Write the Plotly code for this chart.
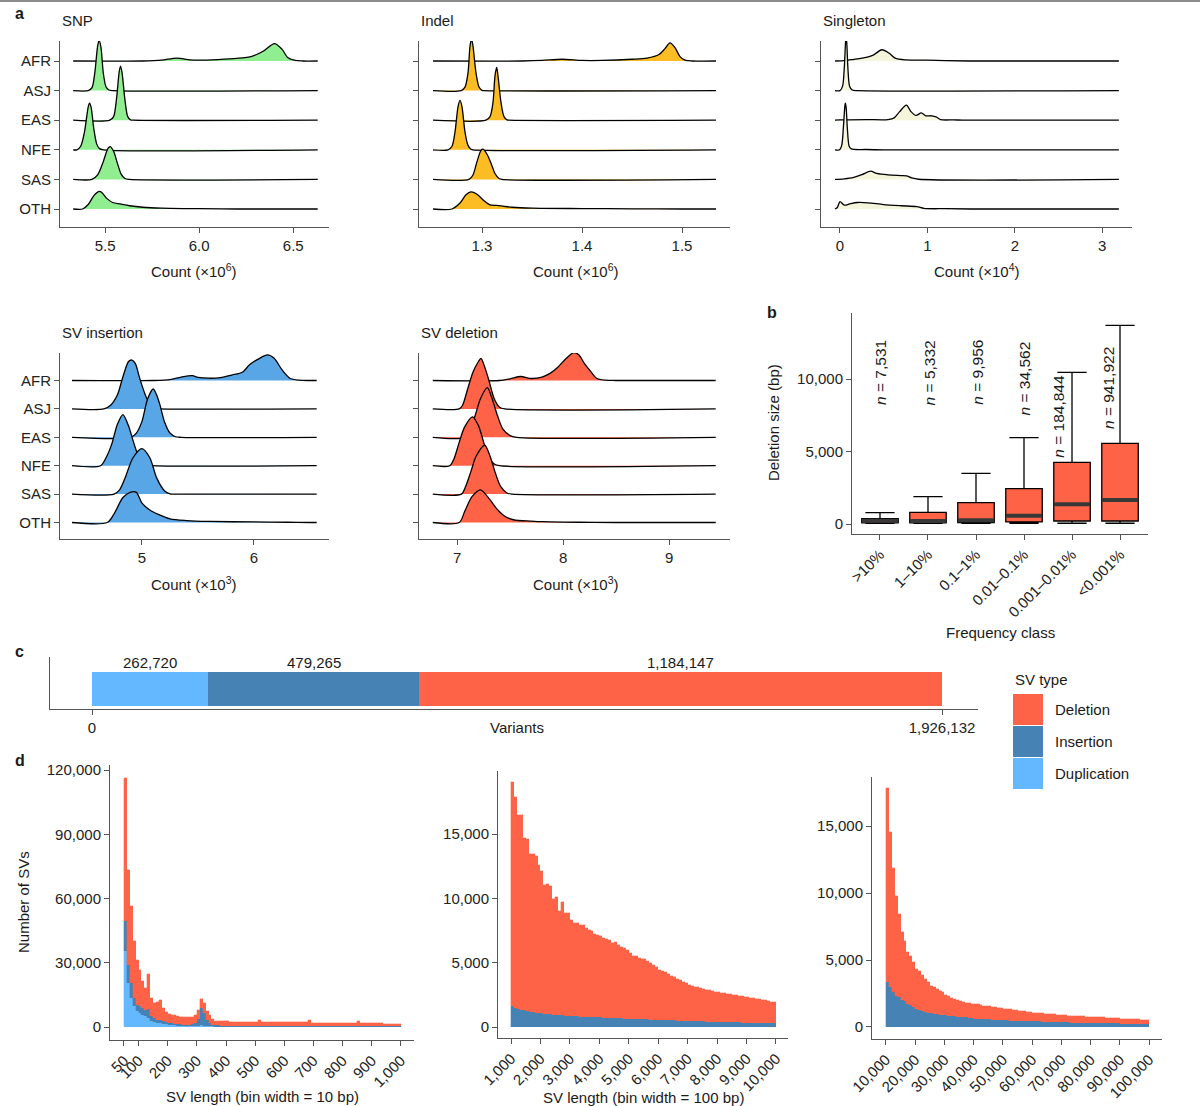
import plotly.graph_objects as go

FONT = "Liberation Sans, Arial, Helvetica, sans-serif"
W, H = 1200, 1106
FS = 15

# ---------------- DATA ----------------
POPS = ["AFR", "ASJ", "EAS", "NFE", "SAS", "OTH"]

# ridgeline profiles: (count values, density height in row units)
SNP_RIDGES = {
    "AFR": ([5.33, 5.70, 5.80, 5.88, 5.95, 6.0, 6.1, 6.2, 6.28, 6.34, 6.40, 6.44, 6.47, 6.51, 6.55, 6.63],
            [0, 0, 0.03, 0.1, 0.04, 0.03, 0.05, 0.09, 0.16, 0.33, 0.59, 0.4, 0.12, 0.02, 0, 0]),
    "ASJ": ([5.33, 5.41, 5.43, 5.445, 5.46, 5.468, 5.478, 5.49, 5.505, 5.52, 5.54, 6.63],
            [0, 0, 0.1, 0.6, 1.5, 1.7, 1.45, 0.6, 0.12, 0.02, 0, 0]),
    "EAS": ([5.33, 5.525, 5.545, 5.56, 5.575, 5.582, 5.59, 5.605, 5.62, 5.635, 5.65, 6.63],
            [0, 0, 0.12, 0.7, 1.65, 1.83, 1.6, 0.7, 0.12, 0.01, 0, 0]),
    "NFE": ([5.33, 5.35, 5.37, 5.39, 5.41, 5.417, 5.425, 5.44, 5.455, 5.47, 5.49, 6.63],
            [0, 0, 0.12, 0.6, 1.45, 1.58, 1.45, 0.7, 0.2, 0.04, 0, 0]),
    "SAS": ([5.33, 5.43, 5.46, 5.49, 5.515, 5.527, 5.545, 5.565, 5.585, 5.605, 5.63, 6.63],
            [0, 0, 0.15, 0.6, 1.05, 1.11, 0.95, 0.55, 0.18, 0.03, 0, 0]),
    "OTH": ([5.33, 5.38, 5.41, 5.44, 5.465, 5.48, 5.51, 5.54, 5.58, 5.63, 5.7, 5.8, 6.0, 6.2, 6.63],
            [0, 0, 0.15, 0.45, 0.59, 0.57, 0.35, 0.22, 0.17, 0.11, 0.06, 0.03, 0.01, 0, 0]),
}
INDEL_RIDGES = {
    "AFR": ([1.251, 1.34, 1.36, 1.38, 1.40, 1.42, 1.45, 1.465, 1.477, 1.483, 1.488, 1.493, 1.498, 1.503, 1.51, 1.534],
            [0, 0, 0.02, 0.06, 0.02, 0.02, 0.06, 0.1, 0.22, 0.42, 0.61, 0.45, 0.15, 0.03, 0, 0]),
    "ASJ": ([1.251, 1.279, 1.283, 1.286, 1.288, 1.2896, 1.291, 1.294, 1.297, 1.300, 1.302, 1.534],
            [0, 0, 0.12, 0.6, 1.5, 1.75, 1.5, 0.6, 0.12, 0.01, 0, 0]),
    "EAS": ([1.251, 1.304, 1.308, 1.311, 1.313, 1.3147, 1.316, 1.319, 1.322, 1.325, 1.327, 1.534],
            [0, 0, 0.12, 0.6, 1.5, 1.78, 1.5, 0.6, 0.12, 0.01, 0, 0]),
    "NFE": ([1.251, 1.266, 1.270, 1.273, 1.276, 1.278, 1.280, 1.283, 1.286, 1.289, 1.291, 1.534],
            [0, 0, 0.12, 0.6, 1.45, 1.67, 1.45, 0.6, 0.15, 0.02, 0, 0]),
    "SAS": ([1.251, 1.287, 1.291, 1.295, 1.299, 1.301, 1.305, 1.309, 1.313, 1.317, 1.32, 1.534],
            [0, 0, 0.15, 0.6, 0.98, 1.02, 0.85, 0.55, 0.2, 0.03, 0, 0]),
    "OTH": ([1.251, 1.27, 1.278, 1.284, 1.289, 1.295, 1.302, 1.308, 1.315, 1.322, 1.33, 1.35, 1.4, 1.45, 1.5, 1.534],
            [0, 0, 0.2, 0.48, 0.58, 0.5, 0.28, 0.14, 0.12, 0.09, 0.06, 0.03, 0.015, 0.005, 0, 0]),
}
SINGLETON_RIDGES = {
    "AFR": ([-0.057, 0.05, 0.15, 0.3, 0.38, 0.48, 0.56, 0.63, 0.75, 1.0, 1.2, 1.5, 3.19],
            [0, 0.01, 0.05, 0.12, 0.2, 0.38, 0.27, 0.1, 0.04, 0.03, 0.01, 0, 0]),
    "ASJ": ([-0.057, 0.0, 0.03, 0.05, 0.065, 0.07, 0.078, 0.09, 0.11, 0.14, 0.2, 3.19],
            [0, 0, 0.15, 0.8, 1.7, 1.8, 1.6, 0.8, 0.15, 0.02, 0, 0]),
    "EAS": ([-0.057, 0.0, 0.3, 0.55, 0.62, 0.68, 0.76, 0.81, 0.87, 0.93, 0.98, 1.05, 1.1, 1.15, 1.3, 1.45, 3.19],
            [0, 0.01, 0.02, 0.02, 0.08, 0.28, 0.51, 0.3, 0.16, 0.25, 0.15, 0.15, 0.11, 0.02, 0.01, 0, 0]),
    "NFE": ([-0.057, -0.005, 0.02, 0.04, 0.055, 0.061, 0.07, 0.085, 0.105, 0.13, 0.3, 0.5, 3.19],
            [0, 0, 0.15, 0.8, 1.45, 1.58, 1.45, 0.7, 0.12, 0.03, 0.01, 0, 0]),
    "SAS": ([-0.057, 0.05, 0.15, 0.25, 0.35, 0.42, 0.55, 0.7, 0.76, 0.82, 0.9, 3.19],
            [0, 0.02, 0.06, 0.16, 0.28, 0.2, 0.15, 0.13, 0.12, 0.05, 0.005, 0]),
    "OTH": ([-0.057, -0.03, 0.0, 0.05, 0.12, 0.2, 0.32, 0.5, 0.7, 0.88, 0.96, 1.2, 1.5, 3.19],
            [0, 0.05, 0.25, 0.13, 0.18, 0.22, 0.21, 0.15, 0.11, 0.08, 0.02, 0.01, 0, 0]),
}
SVINS_RIDGES = {
    "AFR": ([4.375, 5.1, 5.25, 5.35, 5.45, 5.5, 5.6, 5.7, 5.8, 5.9, 5.96, 6.05, 6.12, 6.18, 6.25, 6.32, 6.4, 6.5, 6.56],
            [0, 0, 0.03, 0.12, 0.17, 0.11, 0.08, 0.1, 0.19, 0.3, 0.55, 0.78, 0.9, 0.78, 0.38, 0.08, 0.01, 0, 0]),
    "ASJ": ([4.375, 4.66, 4.72, 4.78, 4.83, 4.88, 4.91, 4.94, 4.98, 5.03, 5.08, 5.12, 5.15, 6.56],
            [0, 0, 0.13, 0.49, 1.13, 1.67, 1.72, 1.6, 1.07, 0.49, 0.1, 0.01, 0, 0]),
    "EAS": ([4.375, 4.9, 4.95, 5.0, 5.05, 5.1, 5.13, 5.16, 5.2, 5.25, 5.3, 5.35, 6.56],
            [0, 0, 0.15, 0.56, 1.35, 1.7, 1.5, 1.15, 0.56, 0.15, 0.02, 0, 0]),
    "NFE": ([4.375, 4.63, 4.68, 4.73, 4.78, 4.83, 4.88, 4.93, 4.98, 5.03, 5.08, 6.56],
            [0, 0, 0.29, 0.76, 1.45, 1.8, 1.4, 0.76, 0.23, 0.03, 0, 0]),
    "SAS": ([4.375, 4.75, 4.8, 4.85, 4.92, 5.0, 5.07, 5.13, 5.2, 5.25, 5.3, 6.56],
            [0, 0, 0.15, 0.58, 1.28, 1.6, 1.28, 0.58, 0.12, 0.01, 0, 0]),
    "OTH": ([4.375, 4.69, 4.75, 4.83, 4.9, 4.95, 5.0, 5.07, 5.15, 5.25, 5.4, 5.6, 6.0, 6.3, 6.5, 6.56],
            [0, 0, 0.3, 0.88, 1.07, 1.06, 0.68, 0.44, 0.28, 0.13, 0.07, 0.04, 0.02, 0.01, 0, 0]),
}
SVDEL_RIDGES = {
    "AFR": ([6.77, 7.4, 7.5, 7.6, 7.7, 7.8, 7.88, 7.95, 8.03, 8.1, 8.15, 8.2, 8.26, 8.32, 8.4, 8.5, 9.44],
            [0, 0, 0.06, 0.14, 0.07, 0.12, 0.26, 0.47, 0.78, 0.98, 0.9, 0.6, 0.32, 0.07, 0.01, 0, 0]),
    "ASJ": ([6.77, 7.02, 7.05, 7.1, 7.15, 7.2, 7.225, 7.26, 7.3, 7.35, 7.4, 7.45, 9.44],
            [0, 0, 0.12, 0.71, 1.3, 1.66, 1.78, 1.48, 1.0, 0.36, 0.06, 0, 0]),
    "EAS": ([6.77, 7.07, 7.12, 7.17, 7.22, 7.285, 7.33, 7.38, 7.43, 7.5, 7.56, 9.44],
            [0, 0, 0.3, 0.77, 1.36, 1.75, 1.36, 0.77, 0.3, 0.06, 0, 0]),
    "NFE": ([6.77, 6.93, 6.97, 7.02, 7.07, 7.145, 7.2, 7.25, 7.3, 7.35, 7.4, 9.44],
            [0, 0, 0.24, 0.83, 1.36, 1.72, 1.42, 0.83, 0.3, 0.06, 0, 0]),
    "SAS": ([6.77, 7.04, 7.08, 7.13, 7.18, 7.26, 7.31, 7.36, 7.41, 7.47, 7.52, 9.44],
            [0, 0, 0.27, 0.8, 1.34, 1.72, 1.34, 0.75, 0.27, 0.04, 0, 0]),
    "OTH": ([6.77, 7.02, 7.07, 7.14, 7.22, 7.3, 7.37, 7.45, 7.55, 7.65, 7.8, 8.0, 8.3, 8.5, 9.44],
            [0, 0, 0.38, 0.91, 1.15, 0.85, 0.5, 0.22, 0.08, 0.06, 0.03, 0.015, 0.005, 0, 0]),
}

# panel b: deletion size by frequency class
FREQ_CLASSES = ["&gt;10%", "1–10%", "0.1–1%", "0.01–0.1%", "0.001–0.01%", "&lt;0.001%"]
BOX_N = ["7,531", "5,332", "9,956", "34,562", "184,844", "941,922"]
BOX_LOWER = [50, 50, 50, 50, 50, 50]
BOX_Q1 = [80, 80, 100, 140, 207, 207]
BOX_MEDIAN = [220, 207, 253, 575, 1356, 1655]
BOX_Q3 = [366, 805, 1471, 2437, 4253, 5563]
BOX_UPPER = [780, 1883, 3494, 5954, 10460, 13700]
BOX_LABEL_Y = [10450, 10450, 10500, 10070, 7400, 9410]
BOX_LABEL_DX = [0.01, 0.04, 0.04, 0.03, -0.27, -0.24]

# panel c: SV counts
SV_TYPES = ["Duplication", "Insertion", "Deletion"]
SV_COUNTS = [262720, 479265, 1184147]
SV_TOTAL = 1926132

# panel d1: 10 bp bins from 50 to 1,000
D1_DUP = [35600, 20500, 13500, 9600, 7300, 6500, 5700, 5000, 4200, 3000,
          2400, 2000, 1800, 1500, 1200, 1000, 900, 800, 700, 600,
          550, 500, 450, 420, 500, 700, 900, 700, 400, 300, 250,
          220, 210, 200, 190, 180, 175, 170, 165, 160, 155,
          150, 145, 140, 135, 130, 128, 125, 122, 120, 118,
          115, 112, 110, 108, 105, 102, 100, 98, 96, 94,
          92, 90, 88, 86, 85, 84, 83, 82, 81, 80,
          79, 78, 77, 76, 75, 74, 73, 72, 71, 70,
          69, 68, 67, 66, 65, 64, 63, 62, 61, 60,
          60, 59, 58, 57]
D1_INS = [14100, 8500, 7000, 3900, 3100, 3100, 3200, 3100, 4000, 2000,
          1600, 1400, 1300, 1100, 1000, 900, 800, 700, 700, 650,
          600, 600, 650, 800, 1500, 3000, 7800, 5800, 3000, 1500, 900,
          600, 500, 450, 420, 400, 390, 380, 370, 360, 350,
          345, 340, 335, 330, 325, 320, 318, 316, 314, 312,
          310, 308, 306, 304, 302, 300, 298, 296, 294, 292,
          290, 288, 286, 284, 282, 280, 278, 276, 274, 272,
          270, 268, 266, 264, 262, 260, 258, 256, 254, 252,
          250, 248, 246, 244, 242, 240, 238, 236, 234, 232,
          230, 228, 226, 224]
D1_DEL = [66700, 44300, 36200, 26900, 20700, 17100, 12700, 10100, 16500, 8500,
          7200, 8300, 9600, 6300, 4800, 4400, 4100, 3900, 3700, 3650,
          3550, 3400, 3400, 3480, 3600, 4100, 4500, 4700, 3900, 3600, 2750,
          2200, 2000,
          2050, 2040, 2020, 2000, 1990, 1980, 1960, 1950, 1940, 1930,
          1920, 1910, 1900, 2700, 1890, 1870, 1860, 1850, 1840, 1830,
          1820, 1810, 1800, 1790, 1780, 1770, 1760, 1750, 1740, 1730,
          2700, 1720,
          1700, 1690, 1670, 1660, 1650, 1640, 1620, 1610, 1600, 1580,
          1560, 1540, 1520, 1500, 1480, 2300, 1460, 1450, 1440, 1420,
          1400, 1380, 1360, 1340, 1320, 1300, 1280, 1260, 1240, 1220]

# panel d2: 100 bp bins from 1,000 to 10,000
D2_INS = [1610, 1500, 1420, 1350, 1290, 1240, 1200, 1160, 1120, 1090,
          1060, 1030, 1000, 980, 960, 940, 920, 900, 885, 870,
          855, 840, 825, 810, 800, 790, 780, 770, 760, 750,
          740, 730, 720, 710, 700, 690, 680, 670, 660, 650,
          640, 630, 620, 610, 600, 592, 584, 576, 568, 560,
          552, 544, 536, 528, 520, 512, 504, 496, 488, 480,
          472, 464, 456, 448, 440, 432, 424, 416, 408, 400,
          394, 388, 382, 376, 370, 364, 358, 352, 346, 340,
          335, 330, 325, 320, 315, 310, 305, 300, 295, 290]
D2_DEL = [17450, 16400, 15040, 15110, 13410, 13390, 12260, 12300, 12210, 11540,
          11100, 10040, 10150, 9960, 9010, 9160, 8120, 8790, 8015, 7980,
          7445, 7280, 7275, 7140, 7100, 6910, 6770, 6680, 6490, 6400,
          6360, 6220, 6130, 6090, 5850, 5910, 5670, 5530, 5490, 5300,
          5110, 4920, 4880, 4790, 4700, 4658, 4516, 4374, 4232, 4090,
          3898, 3806, 3714, 3572, 3430, 3338, 3246, 3154, 3012, 2920,
          2828, 2736, 2694, 2652, 2560, 2518, 2476, 2434, 2392, 2350,
          2306, 2262, 2238, 2224, 2180, 2136, 2122, 2098, 2054, 2010,
          1965, 1950, 1925, 1880, 1835, 1790, 1775, 1750, 1685, 1660]

# panel d3: 1,000 bp bins from 10,000 to 100,000
D3_INS = [3325, 3000, 2625, 2325, 2250, 2050, 1950, 1750, 1625, 1500,
          1375, 1300, 1200, 1125, 1050, 1050, 990, 960, 930, 900,
          870, 840, 810, 790, 770, 750, 730, 710, 690, 670,
          625, 615, 605, 595, 585, 570, 555, 540, 525, 512,
          500, 492, 485, 478, 470, 462, 455, 448, 440, 432,
          425, 418, 411, 404, 397, 390, 383, 376, 369, 360,
          350, 345, 340, 335, 330, 325, 320, 315, 310, 305,
          300, 296, 292, 288, 284, 280, 276, 272, 268, 264,
          250, 248, 246, 244, 242, 240, 236, 232, 228, 225]
D3_DEL = [14475, 11550, 9250, 7425, 6200, 5075, 4475, 3825, 3675, 3375,
          2950, 2875, 2650, 2425, 2275, 2025, 2010, 1890, 1770, 1675,
          1555, 1460, 1390, 1310, 1280, 1200, 1145, 1090, 1070, 1070,
          1095, 1065, 1035, 1005, 975, 960, 945, 920, 905, 888,
          875, 858, 835, 812, 790, 768, 745, 722, 700, 668,
          650, 642, 629, 616, 603, 590, 577, 564, 551, 540,
          525, 520, 515, 510, 500, 490, 480, 475, 465, 455,
          450, 444, 438, 432, 426, 420, 414, 408, 402, 386,
          375, 372, 364, 356, 348, 330, 324, 313, 302, 285]

SV_COLORS = {"Deletion": "#FF6347", "Insertion": "#4682B4", "Duplication": "#63B8FF"}

# ---------------- HELPERS ----------------
def xdom(l, r):
    return [l / W, r / W]


def ydom(t, b):
    return [1 - b / H, 1 - t / H]


def px(x):
    return x / W


def py(y):
    return 1 - y / H


AXC = "#555555"
base_ax = dict(showline=True, linecolor=AXC, linewidth=1, ticks="outside", ticklen=5,
               tickwidth=1, tickcolor=AXC, showgrid=False, zeroline=False, automargin=False,
               tickfont=dict(family=FONT, size=FS, color="#222222"), fixedrange=True)

layout_axes = {}


def set_axes(k, xd, yd, xr, yr, xextra=None, yextra=None):
    s = "" if k == 1 else str(k)
    xa = dict(base_ax, domain=xd, range=xr, anchor="y" + s)
    ya = dict(base_ax, domain=yd, range=yr, anchor="x" + s)
    xa.update(xextra or {})
    ya.update(yextra or {})
    layout_axes["xaxis" + s] = xa
    layout_axes["yaxis" + s] = ya


def ref(k):
    s = "" if k == 1 else str(k)
    return "x" + s, "y" + s


fig = go.Figure()

# ---------------- PANEL a: ridgelines ----------------
ridge_panels = [
    (SNP_RIDGES, "#90EE90", 1),
    (INDEL_RIDGES, "#FBBD23", 2),
    (SINGLETON_RIDGES, "#F5F5DC", 3),
    (SVINS_RIDGES, "#58A6E6", 4),
    (SVDEL_RIDGES, "#FF6347", 5),
]
for data, color, k in ridge_panels:
    xr_, yr_ = ref(k)
    for i, pop in enumerate(POPS):
        base = len(POPS) - 1 - i
        xs, hs = data[pop]
        fig.add_trace(go.Scatter(
            x=xs, y=[base + h for h in hs], mode="lines", fill="toself", fillcolor=color,
            line=dict(color="black", width=1.3, shape="spline", smoothing=0.8),
            xaxis=xr_, yaxis=yr_, showlegend=False, hoverinfo="skip"))

ridge_y_ticks = dict(tickmode="array", tickvals=[5, 4, 3, 2, 1, 0], ticktext=POPS)
ridge_y_noticks = dict(tickmode="array", tickvals=[5, 4, 3, 2, 1, 0], showticklabels=False)
row1_y = ydom(41, 227)
row1_yr = [-0.608, 5.676]
row2_y = ydom(353, 539)
row2_yr = [-0.58, 5.968]

set_axes(1, xdom(60, 329), row1_y, [5.26, 6.69], row1_yr,
         dict(tickmode="array", tickvals=[5.5, 6.0, 6.5], ticktext=["5.5", "6.0", "6.5"]), ridge_y_ticks)
set_axes(2, xdom(419, 730), row1_y, [1.237, 1.548], row1_yr,
         dict(tickmode="array", tickvals=[1.3, 1.4, 1.5], ticktext=["1.3", "1.4", "1.5"]), ridge_y_noticks)
set_axes(3, xdom(821, 1132), row1_y, [-0.217, 3.34], row1_yr,
         dict(tickmode="array", tickvals=[0, 1, 2, 3], ticktext=["0", "1", "2", "3"]), ridge_y_noticks)
set_axes(4, xdom(60, 329), row2_y, [4.268, 6.67], row2_yr,
         dict(tickmode="array", tickvals=[5, 6], ticktext=["5", "6"]), ridge_y_ticks)
set_axes(5, xdom(419, 730), row2_y, [6.64, 9.575], row2_yr,
         dict(tickmode="array", tickvals=[7, 8, 9], ticktext=["7", "8", "9"]), ridge_y_noticks)

# ---------------- PANEL b: box plot ----------------
positions = list(range(len(FREQ_CLASSES)))
fig.add_trace(go.Box(
    x=positions, q1=BOX_Q1, median=BOX_MEDIAN, q3=BOX_Q3,
    lowerfence=BOX_LOWER, upperfence=BOX_UPPER,
    width=0.76, whiskerwidth=0.8, fillcolor="#FF6347",
    line=dict(color="black", width=1.3), boxpoints=False,
    xaxis="x6", yaxis="y6", showlegend=False, hoverinfo="skip"))
med_x, med_y = [], []
for p, m in zip(positions, BOX_MEDIAN):
    med_x += [p - 0.37, p + 0.37, None]
    med_y += [m, m, None]
fig.add_trace(go.Scatter(x=med_x, y=med_y, mode="lines", line=dict(color="#383838", width=4),
                         xaxis="x6", yaxis="y6", showlegend=False, hoverinfo="skip"))
set_axes(6, xdom(852, 1148), ydom(313, 534), [-0.583, 5.583], [-690, 14552],
         dict(tickmode="array", tickvals=positions, ticktext=FREQ_CLASSES, tickangle=-45),
         dict(tickmode="array", tickvals=[0, 5000, 10000], ticktext=["0", "5,000", "10,000"]))

# ---------------- PANEL c: stacked bar ----------------
for t, v in zip(SV_TYPES, SV_COUNTS):
    fig.add_trace(go.Bar(x=[v], y=[0], orientation="h", width=1, marker=dict(color=SV_COLORS[t], line=dict(width=0)),
                         xaxis="x7", yaxis="y7", showlegend=False, hoverinfo="skip"))
set_axes(7, xdom(50, 978), ydom(657, 709), [-95174, 2007708], [-0.588, 0.941],
         dict(tickmode="array", tickvals=[0, SV_TOTAL], ticktext=["0", f"{SV_TOTAL:,}"]),
         dict(ticks="", showticklabels=False))

# ---------------- PANEL d: histograms ----------------
def add_hist(k, start, width, series):
    xr_, yr_ = ref(k)
    n = len(series[0][1])
    xs = [start + width * j for j in range(n)]
    for name, vals in series:
        fig.add_trace(go.Bar(x=xs, y=vals, width=width, offset=0,
                             marker=dict(color=SV_COLORS[name], line=dict(width=0.3, color=SV_COLORS[name])),
                             xaxis=xr_, yaxis=yr_, showlegend=False, hoverinfo="skip"))

add_hist(8, 50, 10, [("Duplication", D1_DUP), ("Insertion", D1_INS), ("Deletion", D1_DEL)])
add_hist(9, 1000, 100, [("Insertion", D2_INS), ("Deletion", D2_DEL)])
add_hist(10, 10000, 1000, [("Insertion", D3_INS), ("Deletion", D3_DEL)])

d1_ticks = [50] + list(range(100, 1001, 100))
set_axes(8, xdom(110, 414), ydom(765, 1040), [2, 1045], [-6075, 122430],
         dict(tickmode="array", tickvals=d1_ticks, ticktext=[f"{v:,}" for v in d1_ticks], tickangle=-45),
         dict(tickmode="array", tickvals=[0, 30000, 60000, 90000, 120000],
              ticktext=["0", "30,000", "60,000", "90,000", "120,000"]))
d2_ticks = list(range(1000, 10001, 1000))
set_axes(9, xdom(498, 788), ydom(771, 1038), [558, 10408], [-855, 19907],
         dict(tickmode="array", tickvals=d2_ticks, ticktext=[f"{v:,}" for v in d2_ticks], tickangle=-45),
         dict(tickmode="array", tickvals=[0, 5000, 10000, 15000], ticktext=["0", "5,000", "10,000", "15,000"]))
d3_ticks = list(range(10000, 100001, 10000))
set_axes(10, xdom(872, 1162), ydom(777, 1039), [5222, 104436], [-896, 18657],
         dict(tickmode="array", tickvals=d3_ticks, ticktext=[f"{v:,}" for v in d3_ticks], tickangle=-45),
         dict(tickmode="array", tickvals=[0, 5000, 10000, 15000], ticktext=["0", "5,000", "10,000", "15,000"]))

# ---------------- ANNOTATIONS ----------------
ann = []


def A(x, y, text, size=FS, xanchor="center", yanchor="middle", angle=0, color="#1a1a1a"):
    ann.append(dict(x=px(x), y=py(y), xref="paper", yref="paper", text=text, showarrow=False,
                    xanchor=xanchor, yanchor=yanchor, textangle=angle,
                    font=dict(family=FONT, size=size, color=color)))


A(13, 14, "<b>a</b>", 16, "left")
A(772, 313, "<b>b</b>", 16, "center")
A(13, 651, "<b>c</b>", 16, "left")
A(13, 760, "<b>d</b>", 16, "left")

A(60, 21, "SNP", FS, "left")
A(419, 21, "Indel", FS, "left")
A(821, 21, "Singleton", FS, "left")
A(60, 332, "SV insertion", FS, "left")
A(419, 332, "SV deletion", FS, "left")

A(194, 270, "Count (×10<sup>6</sup>)")
A(575, 270, "Count (×10<sup>6</sup>)")
A(976, 270, "Count (×10<sup>4</sup>)")
A(194, 583, "Count (×10<sup>3</sup>)")
A(575, 583, "Count (×10<sup>3</sup>)")

A(773, 423, "Deletion size (bp)", FS, angle=-90)
A(1000, 632, "Frequency class")

A(517, 727, "Variants")

A(23, 902, "Number of SVs", FS, angle=-90)
A(262, 1096, "SV length (bin width = 10 bp)")
A(643, 1097, "SV length (bin width = 100 bp)")

# n labels in panel b (data coordinates)
for p, n, yv, dx in zip(positions, BOX_N, BOX_LABEL_Y, BOX_LABEL_DX):
    ann.append(dict(x=p + dx, y=yv, xref="x6", yref="y6", text=f"<i>n</i> = {n}", showarrow=False,
                    textangle=-90, xanchor="center", yanchor="middle",
                    font=dict(family=FONT, size=15.5, color="#1a1a1a")))

# counts above bar in panel c
cum = 0
for v in SV_COUNTS:
    ann.append(dict(x=cum + v / 2, y=0.79, xref="x7", yref="y7", text=f"{v:,}", showarrow=False,
                    xanchor="center", yanchor="middle", font=dict(family=FONT, size=FS, color="#1a1a1a")))
    cum += v

# legend
A(1013, 679, "SV type", FS, "left")
shapes = []
for (name, top) in [("Deletion", 694), ("Insertion", 726), ("Duplication", 758)]:
    shapes.append(dict(type="rect", xref="paper", yref="paper", x0=px(1013), x1=px(1043),
                       y0=py(top + 31), y1=py(top), fillcolor=SV_COLORS[name], line=dict(width=0)))
    A(1053, top + 15.5, name, FS, "left")

shapes.append(dict(type="line", xref="paper", yref="paper", x0=0, x1=1, y0=py(1), y1=py(1),
                   line=dict(color="#8c8c8c", width=2)))

fig.update_layout(
    width=W, height=H, margin=dict(l=0, r=0, t=0, b=0, autoexpand=False),
    paper_bgcolor="white", plot_bgcolor="white",
    barmode="stack", bargap=0, showlegend=False,
    font=dict(family=FONT, size=FS, color="#1a1a1a"),
    annotations=ann, shapes=shapes,
    **layout_axes,
)

fig.write_html("out.html")
